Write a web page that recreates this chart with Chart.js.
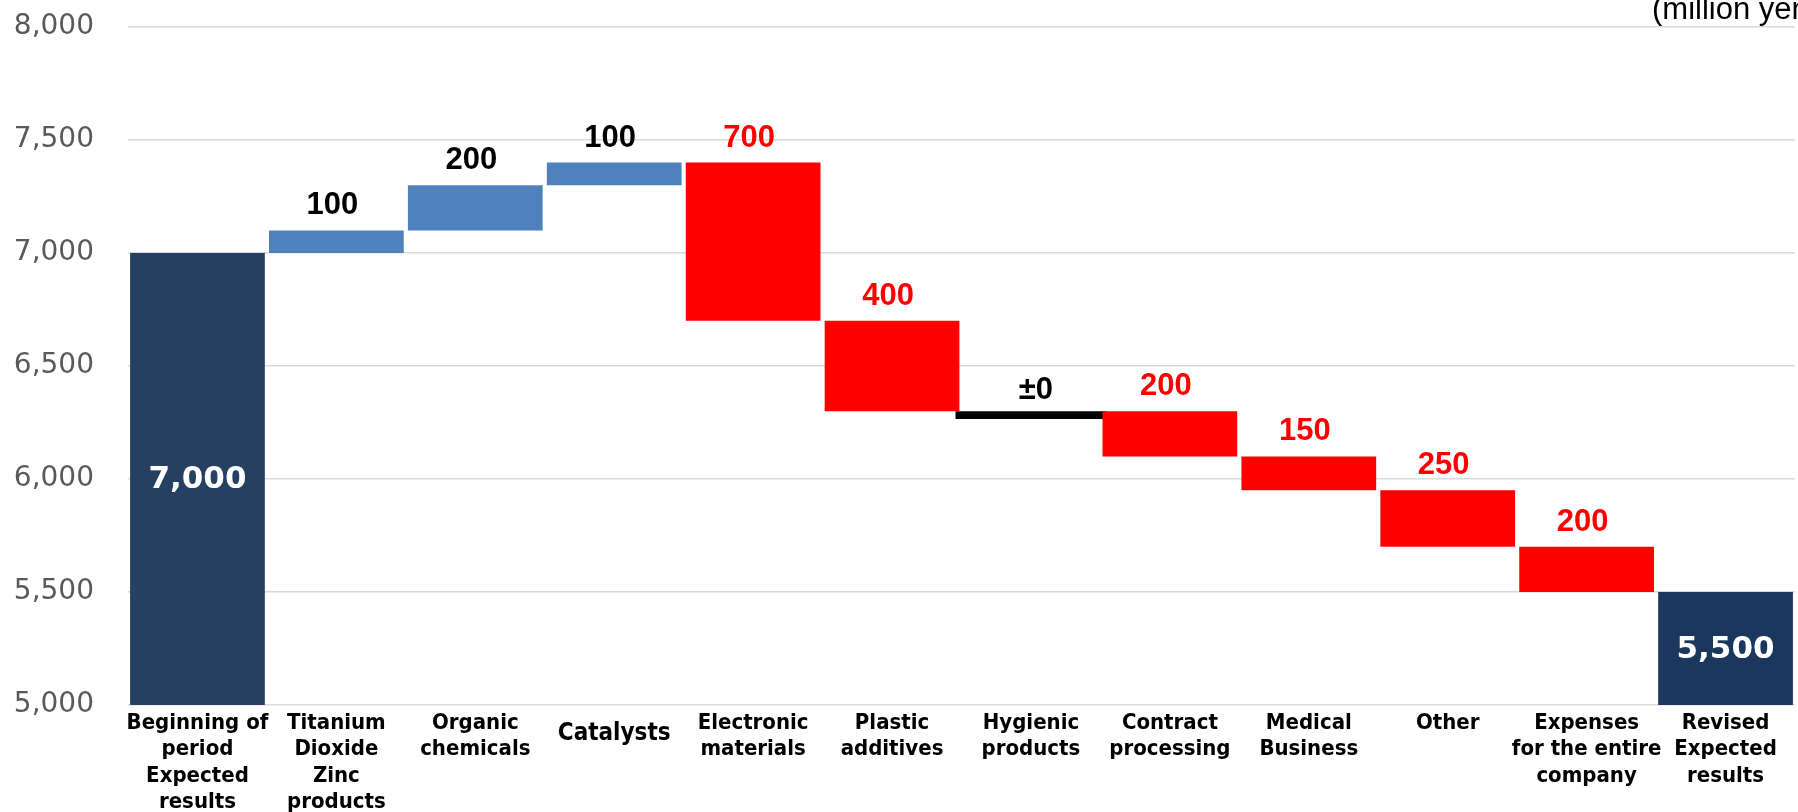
<!DOCTYPE html>
<html>
<head>
<meta charset="utf-8">
<script src="https://cdn.jsdelivr.net/npm/chart.js@4/dist/chart.umd.min.js"></script>
<style>
  html, body { margin: 0; padding: 0; background: #ffffff; }
  #wrap { width: 1798px; height: 812px; position: relative; overflow: hidden; }
</style>
</head>
<body>
<div id="wrap"><canvas id="c" width="1798" height="812"></canvas></div>
<script>
// ---- data ----
const categories = [
  ['Beginning of', 'period', 'Expected', 'results'],
  ['Titanium', 'Dioxide', 'Zinc', 'products'],
  ['Organic', 'chemicals'],
  ['Catalysts'],
  ['Electronic', 'materials'],
  ['Plastic', 'additives'],
  ['Hygienic', 'products'],
  ['Contract', 'processing'],
  ['Medical', 'Business'],
  ['Other'],
  ['Expenses', 'for the entire', 'company'],
  ['Revised', 'Expected', 'results']
];
const barStart = [5000, 7000, 7100, 7300, 7400, 6700, null, 6300, 6100, 5950, 5700, 5000];
const barEnd   = [7000, 7100, 7300, 7400, 6700, 6300, null, 6100, 5950, 5700, 5500, 5500];
const flatStart = [null, null, null, null, null, null, 6265, null, null, null, null, null];
const flatEnd   = [null, null, null, null, null, null, 6300, null, null, null, null, null];
const valueLabels = ['7,000', '100', '200', '100', '700', '400', '±0', '200', '150', '250', '200', '5,500'];
const barKind = ['total', 'up', 'up', 'up', 'down', 'down', 'flat', 'down', 'down', 'down', 'down', 'result'];
const yTicks = [5000, 5500, 6000, 6500, 7000, 7500, 8000];
const unitNote = '(million yen)';

// ---- styles ----
const kindColor = { total: '#264061', result: '#1b375e', up: '#4f81bd', down: '#ff0000', flat: '#000000' };
const labelColor = { up: '#000000', flat: '#000000', down: '#ff0000' };

const mainData = barStart.map((s, i) => (s === null ? null : [s, barEnd[i]]));
const flatData = flatStart.map((s, i) => (s === null ? null : [s, flatEnd[i]]));

const valueLabelPlugin = {
  id: 'valueLabels',
  afterDatasetsDraw(chart) {
    const ctx = chart.ctx;
    const m0 = chart.getDatasetMeta(0);
    const m1 = chart.getDatasetMeta(1);
    ctx.save();
    ctx.textAlign = 'center';
    valueLabels.forEach((txt, i) => {
      const kind = barKind[i];
      const el = (kind === 'flat') ? m1.data[i] : m0.data[i];
      if (!el) return;
      const top = Math.min(el.y, el.base);
      const bottom = Math.max(el.y, el.base);
      if (kind === 'total' || kind === 'result') {
        ctx.font = 'bold 31px "DejaVu Sans", sans-serif';
        ctx.fillStyle = '#ffffff';
        ctx.textBaseline = 'middle';
        ctx.fillText(txt, el.x, (top + bottom) / 2 + 1);
      } else {
        ctx.font = 'bold 31px "Liberation Sans", Arial, sans-serif';
        ctx.fillStyle = labelColor[kind];
        ctx.textBaseline = 'alphabetic';
        const gap = kind === 'flat' ? 12 : 16;
        const dx = kind === 'flat' ? 5 : -4;
        ctx.fillText(txt, el.x + dx, top - gap);
      }
    });
    ctx.restore();
  }
};

const notePlugin = {
  id: 'unitNote',
  afterDraw(chart) {
    const ctx = chart.ctx;
    ctx.save();
    ctx.font = '31px "Liberation Sans", Arial, sans-serif';
    ctx.fillStyle = '#000000';
    ctx.textAlign = 'left';
    ctx.textBaseline = 'alphabetic';
    ctx.fillText(unitNote, 1652, 19);
    ctx.restore();
  }
};

new Chart(document.getElementById('c'), {
  type: 'bar',
  data: {
    labels: categories,
    datasets: [
      {
        data: mainData,
        backgroundColor: barKind.map(k => kindColor[k]),
        borderWidth: 0,
        grouped: false,
        barPercentage: 0.97,
        categoryPercentage: 1.0
      },
      {
        data: flatData,
        backgroundColor: kindColor.flat,
        borderWidth: 0,
        grouped: false,
        barPercentage: 1.086,
        categoryPercentage: 1.0
      }
    ]
  },
  options: {
    responsive: false,
    animation: false,
    devicePixelRatio: 1,
    layout: { padding: { top: 27, right: 3, bottom: 0, left: 0 } },
    plugins: {
      legend: { display: false },
      tooltip: { enabled: false },
      title: { display: false }
    },
    scales: {
      x: {
        grid: { display: false, drawTicks: false },
        border: { display: false },
        ticks: {
          autoSkip: false,
          maxRotation: 0,
          minRotation: 0,
          padding: 5,
          color: '#000000',
          font: (c) => ({
            family: '"Liberation Sans Narrow", "DejaVu Sans Condensed", "Liberation Sans", Arial, sans-serif',
            weight: 'bold',
            size: c.index === 3 ? 24 : 22,
            lineHeight: c.index === 3 ? 1.95 : 1.2
          })
        },
        afterFit(scale) { scale.height = 107; scale.paddingLeft = 0; scale.paddingRight = 0; }
      },
      y: {
        min: yTicks[0],
        max: yTicks[yTicks.length - 1],
        afterBuildTicks(scale) { scale.ticks = yTicks.map(v => ({ value: v })); },
        grid: { color: '#d9d9d9', lineWidth: 1.5, drawTicks: false },
        border: { display: false },
        ticks: {
          padding: 34,
          color: '#595959',
          font: { family: '"DejaVu Sans", sans-serif', size: 28 },
          callback: (v) => Number(v).toLocaleString('en-US')
        },
        afterFit(scale) { scale.width = 128; scale.paddingTop = 0; scale.paddingBottom = 0; }
      }
    }
  },
  plugins: [valueLabelPlugin, notePlugin]
});
</script>
</body>
</html>
